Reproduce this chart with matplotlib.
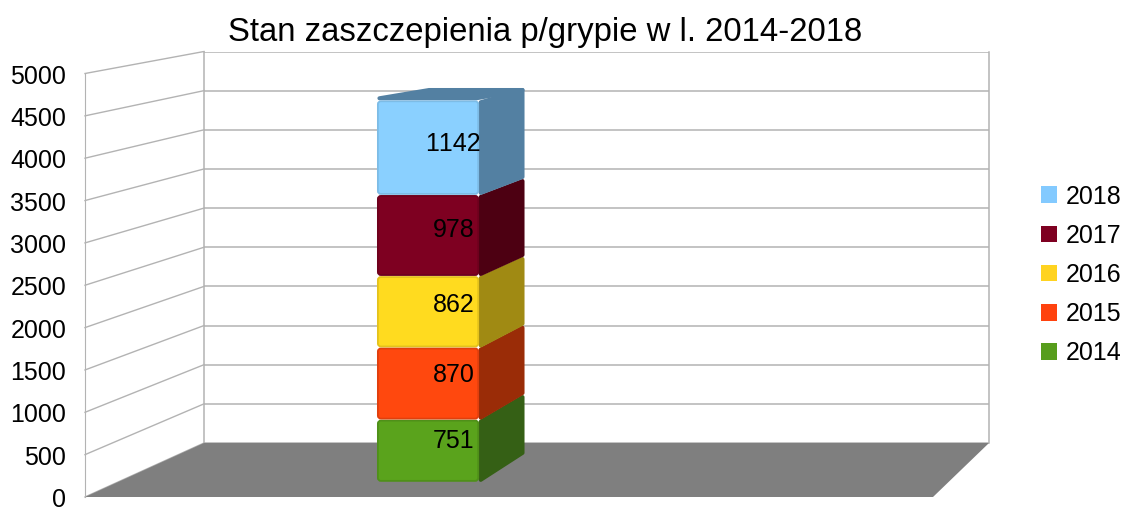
import matplotlib
matplotlib.use("Agg")
import matplotlib.pyplot as plt
import numpy as np
from matplotlib.patches import Polygon, FancyBboxPatch, Patch
from matplotlib.transforms import IdentityTransform, ScaledTranslation

plt.rcParams['font.family'] = ['Liberation Sans', 'DejaVu Sans']
plt.rcParams['text.kerning_factor'] = 6

title = "Stan zaszczepienia p/grypie w l. 2014-2018"
years = ["2014", "2015", "2016", "2017", "2018"]
values = [751, 870, 862, 978, 1142]
front_colors = ["#5AA31C", "#FF480E", "#FFDB1F", "#7E0021", "#8AD0FF"]
edge_colors = ["#4F9019", "#E03F0D", "#E4C21C", "#6E001D", "#7DBCE6"]
side_colors = ["#356015", "#9A2C07", "#A08A13", "#4D0012", "#5380A2"]
legend_colors = ["#579D1C", "#FF420E", "#FFD320", "#7E0021", "#83CAFF"]
yticks = [0, 500, 1000, 1500, 2000, 2500, 3000, 3500, 4000, 4500, 5000]

W, H = 1125, 507
GRID = "#B3B3B3"
FLOOR = "#7F7F7F"
FS = 18.0
fig = plt.figure(figsize=(W / 100, H / 100), dpi=100, facecolor="white")


def rect(x0, x1, y_bottom, y_top):
    return [x0 / W, (H - y_bottom) / H, (x1 - x0) / W, (y_bottom - y_top) / H]


# front plane carries the tick labels; back plane carries the grid
back = fig.add_axes(rect(204, 989, 443, 51.5), zorder=1)
ax = fig.add_axes(rect(85, 933, 497, 73.5), zorder=2)
ax.patch.set_alpha(0)
for a in (ax, back):
    a.set_xlim(0, 1)
    a.set_ylim(0, 5000)
    a.set_yticks(yticks)
    a.set_xticks([])
    for s in a.spines.values():
        s.set_visible(False)
back.tick_params(left=False, labelleft=False)
back.grid(axis="y", color=GRID, lw=1.1)
for side in ("left", "right"):
    back.spines[side].set_visible(True)
    back.spines[side].set_color(GRID)
    back.spines[side].set_linewidth(1.1)
ax.spines["left"].set_visible(True)
ax.spines["left"].set_color(GRID)
ax.spines["left"].set_linewidth(0.8)
ax.tick_params(axis="y", length=0, pad=13.5, labelsize=FS, colors="black")
shift = ScaledTranslation(0, -0.5 / 72, fig.dpi_scale_trans)
for lab in ax.get_yticklabels():
    lab.set_transform(lab.get_transform() + shift)

fig.canvas.draw()


def project(u, value, d):
    pf = ax.transData.transform((u, value))
    pb = back.transData.transform((u, value))
    return (1 - d) * pf + d * pb


def poly(points, face, lw=0, z=3):
    p = Polygon(np.array(points), closed=True, facecolor=face,
                edgecolor=face, linewidth=lw, joinstyle="round",
                transform=IdentityTransform(), clip_on=False, zorder=z)
    ax.add_patch(p)


def rounded_poly(points, face, z, r=2.0):
    # pull corners in by r pixels; a round-joined stroke of 2r restores the outline
    pts = np.array(points, dtype=float)
    c = pts.mean(axis=0)
    pts = pts + np.sign(c - pts) * r
    poly(pts, face, lw=2 * r * 72 / 100, z=z)


# left wall grid lines
for v in yticks:
    a_, b_ = project(0, v, 0), project(0, v, 1)
    ax.plot([a_[0], b_[0]], [a_[1], b_[1]], color=GRID, lw=1.0,
            transform=IdentityTransform(), clip_on=False, zorder=2)

# floor
poly([project(0, 0, 0), project(1, 0, 0), project(1, 0, 1), project(0, 0, 1)], FLOOR, z=2.5)

# stacked bar
U0, U1 = 0.312, 0.434
D0, D1 = 0.28, 0.78
cum = np.concatenate([[0], np.cumsum(values)])
for i, (v, fc, ec, sc) in enumerate(zip(values, front_colors, edge_colors, side_colors)):
    lo, hi = cum[i], cum[i + 1]
    if i == len(values) - 1:
        rounded_poly([project(U0, hi, D0), project(U1, hi, D0), project(U1, hi, D1), project(U0, hi, D1)],
                     sc, z=3 + i * 0.1)
    rounded_poly([project(U1, lo, D0), project(U1, lo, D1), project(U1, hi, D1), project(U1, hi, D0)],
                 sc, z=3 + i * 0.1)
    p0 = project(U0, lo, D0)
    p1 = project(U1, hi, D0)
    box = FancyBboxPatch((p0[0] + 0.5, p0[1] + 1), p1[0] - p0[0] - 1, p1[1] - p0[1] - 2,
                         boxstyle="round,pad=0,rounding_size=3", facecolor=fc, edgecolor=ec,
                         linewidth=1.3, transform=IdentityTransform(), clip_on=False,
                         zorder=3.05 + i * 0.1)
    ax.add_patch(box)

# value labels sit at the bar centre
for i, v in enumerate(values):
    c = project((U0 + U1) / 2, cum[i] + v / 2, (D0 + D1) / 2)
    ax.text(c[0] + 1.5, c[1] - 0.5, str(v), transform=IdentityTransform(), ha="center", va="center_baseline",
            fontsize=FS, color="black", zorder=5, clip_on=False)

fig.text(545 / W, 1 - 32.5 / H, title, ha="center", va="center", fontsize=23.7, color="black")

handles = [Patch(facecolor=c, edgecolor=c, linewidth=0) for c in legend_colors[::-1]]
fig.legend(handles, years[::-1], loc="center left", bbox_to_anchor=(1041 / W, 1 - 275 / H),
           frameon=False, fontsize=FS, handlelength=0.64, handleheight=0.64,
           handletextpad=0.36, labelspacing=0.61, borderpad=0, borderaxespad=0)

fig.savefig("out.png", dpi=100, facecolor="white")
